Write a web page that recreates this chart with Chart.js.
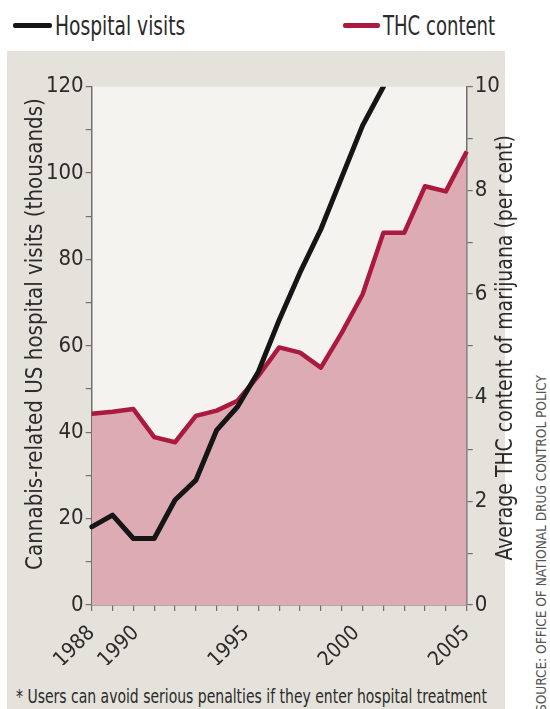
<!DOCTYPE html>
<html>
<head>
<meta charset="utf-8">
<script src="https://cdn.jsdelivr.net/npm/chart.js@4.4.1/dist/chart.umd.min.js"></script>
<style>
  body { margin: 0; width: 550px; height: 709px; background: #fff; overflow: hidden; position: relative;
         font-family: 'DejaVu Sans Condensed', 'Liberation Sans', sans-serif; color: #2b2b2b; }
  .fit { display: inline-block; white-space: nowrap; }
  .key { position: absolute; top: 13px; font-size: 26px; line-height: 26px; white-space: nowrap; }
  .key .fit { transform-origin: left center; }
  .swatch { position: absolute; top: 23px; height: 5px; border-radius: 2px; }
  #panel { position: absolute; left: 7px; top: 51px; width: 498px; height: 658px; background: #e4e2db; }
  #chart { position: absolute; left: 7px; top: 51px; }
  .vtitle { position: absolute; width: 600px; height: 28px; line-height: 28px; font-size: 23px;
            text-align: center; white-space: nowrap; transform: rotate(-90deg); }
  #note { position: absolute; left: 16px; top: 686px; font-size: 20px; line-height: 20px; white-space: nowrap; }
  #note .fit { transform-origin: left center; }
  #source { position: absolute; width: 400px; height: 16px; line-height: 16px; font-size: 14px; color: #555;
            text-align: center; left: 341px; top: 535.5px; white-space: nowrap; transform: rotate(-90deg); }
</style>
</head>
<body>
<div class="swatch" style="left:13px;width:39px;background:#151515"></div>
<div class="key" style="left:55px"><span class="fit" data-w="130">Hospital visits</span></div>
<div class="swatch" style="left:343px;width:37px;background:#ab1a3e"></div>
<div class="key" style="left:383px"><span class="fit" data-w="112">THC content</span></div>

<div id="panel"></div>
<canvas id="chart" width="498" height="614"></canvas>
<div class="vtitle" style="left:-266px;top:320px"><span class="fit" data-w="472">Cannabis-related US hospital visits (thousands)</span></div>
<div class="vtitle" style="left:204px;top:333.5px"><span class="fit" data-w="425">Average THC content of marijuana (per cent)</span></div>
<div id="note"><span class="fit" data-w="471">* Users can avoid serious penalties if they enter hospital treatment</span></div>
<div id="source"><span class="fit" data-w="337">SOURCE: OFFICE OF NATIONAL DRUG CONTROL POLICY</span></div>

<script>
// sampled points along the x axis (19 of them, the chart spreads them over 1988-2005)
const years = ['1988', '1989', '1990', '1991', '1992', '1993', '1994', '1995', '1996', '1997',
               '1998', '1999', '2000', '2001', '2002', '2003', '2004', '2005', '2006'];
// thousands of visits
const hospitalVisits = [18.1, 20.8, 15.4, 15.4, 24.3, 28.9, 40.5, 45.9, 54, 66,
                        77, 87, 99, 111, 120, null, null, null, null];
// per cent THC
const thcContent = [3.69, 3.73, 3.78, 3.24, 3.14, 3.65, 3.75, 3.94, 4.42, 4.97,
                    4.87, 4.58, 5.25, 5.99, 7.18, 7.18, 8.08, 7.98, 8.75];
const yearTicks = [1988, 1990, 1995, 2000, 2005];

// squeeze the html texts to the condensed widths of the original
document.querySelectorAll('.fit').forEach(el => {
  const k = Number(el.dataset.w) / el.offsetWidth;
  el.style.transform = 'scaleX(' + k.toFixed(3) + ')';
});

const fam = "'DejaVu Sans Condensed', 'Liberation Sans', sans-serif";
const axisColor = '#707070';
const tickColor = '#2b2b2b';

const plotBg = {
  id: 'plotBg',
  beforeDraw(chart) {
    const a = chart.chartArea;
    const ctx = chart.ctx;
    ctx.save();
    ctx.fillStyle = '#f4f3ef';
    ctx.fillRect(a.left, a.top, a.right - a.left, a.bottom - a.top);
    ctx.restore();
  }
};

new Chart(document.getElementById('chart'), {
  type: 'line',
  data: {
    labels: years,
    datasets: [
      {
        label: 'Hospital visits',
        data: hospitalVisits,
        yAxisID: 'y',
        borderColor: '#151515',
        borderWidth: 5,
        borderCapStyle: 'round',
        borderJoinStyle: 'round',
        pointRadius: 0,
        fill: false,
        tension: 0
      },
      {
        label: 'THC content',
        data: thcContent,
        yAxisID: 'y2',
        borderColor: '#ab1a3e',
        backgroundColor: '#dcabb3',
        borderWidth: 4.5,
        borderJoinStyle: 'round',
        pointRadius: 0,
        fill: 'origin',
        tension: 0
      }
    ]
  },
  options: {
    responsive: false,
    animation: false,
    devicePixelRatio: 1,
    layout: { padding: { top: 35.7, left: 0, right: 0, bottom: 0 } },
    plugins: { legend: { display: false }, tooltip: { enabled: false } },
    scales: {
      x: {
        type: 'category',
        position: 'bottom',
        offset: false,
        ticks: { display: false },
        grid: { drawOnChartArea: false, tickLength: 6, color: axisColor, lineWidth: 1.2 },
        border: { color: axisColor, width: 1.5 },
        afterFit: s => { s.height = 6; }
      },
      xl: {
        type: 'linear',
        position: 'bottom',
        min: 1988,
        max: 2005,
        afterBuildTicks: s => { s.ticks = yearTicks.map(v => ({ value: v })); },
        ticks: {
          autoSkip: false, minRotation: 45, maxRotation: 45, padding: 2,
          color: tickColor, font: { family: fam, size: 21 },
          callback: v => String(v)
        },
        grid: { display: false },
        border: { display: false },
        afterFit: s => { s.height = 54; }
      },
      y: {
        position: 'left',
        min: 0,
        max: 120,
        ticks: {
          stepSize: 10, padding: 2, color: tickColor, font: { family: fam, size: 22 },
          callback: v => (v % 20 === 0 ? v : '')
        },
        grid: { drawOnChartArea: false, tickLength: 6, color: axisColor, lineWidth: 1.2 },
        border: { color: axisColor, width: 1.5 },
        afterFit: s => { s.width = 84.7; }
      },
      y2: {
        position: 'right',
        min: 0,
        max: 10,
        ticks: {
          stepSize: 1, padding: 2, color: tickColor, font: { family: fam, size: 22 },
          callback: v => (v % 2 === 0 ? v : '')
        },
        grid: { drawOnChartArea: false, tickLength: 6, color: axisColor, lineWidth: 1.2 },
        border: { color: axisColor, width: 1.5 },
        afterFit: s => { s.width = 38.3; }
      }
    }
  },
  plugins: [plotBg]
});
</script>
</body>
</html>
